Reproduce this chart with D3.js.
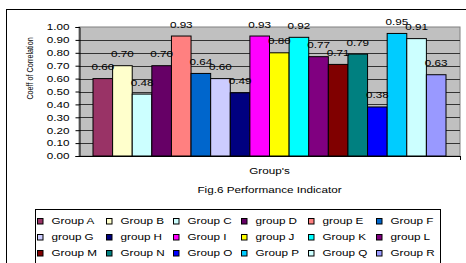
<!DOCTYPE html>
<html>
<head>
<meta charset="utf-8">
<script src="https://cdn.jsdelivr.net/npm/d3@7"></script>
<style>
  body { margin: 0; background: #fff; }
  svg { display: block; font-family: "Liberation Sans", Arial, sans-serif; }
</style>
</head>
<body>
<svg id="chart" width="466" height="263"></svg>
<script>
// data
const groups = ["Group A", "Group B", "Group C", "group D", "group E", "Group F",
  "group G", "group H", "Group I", "group J", "Group K", "group L",
  "Group M", "Group N", "Group O", "Group P", "Group Q", "Group R"];
const values = [0.60, 0.70, 0.48, 0.70, 0.93, 0.64,
  0.60, 0.49, 0.93, 0.80, 0.92, 0.77,
  0.71, 0.79, 0.38, 0.95, 0.91, 0.63];
const colors = ["#993366", "#FFFFCC", "#CCFFFF", "#660066", "#FF8080", "#0066CC",
  "#CCCCFF", "#000080", "#FF00FF", "#FFFF00", "#00FFFF", "#800080",
  "#800000", "#008080", "#0000FF", "#00CCFF", "#CCFFFF", "#9999FF"];
const yTicks = d3.range(0, 11).map((d) => d / 10);

// the picture is stretched horizontally, so text gets the same stretch
const SX = 1.3;

const svg = d3.select("#chart");

// text helper: moves x/y into a transform and stretches the glyphs
const stretch = (sel, extra = "") => {
  sel.each(function () {
    const t = d3.select(this);
    const x = +t.attr("x") || 0;
    const y = +t.attr("y") || 0;
    t.attr("x", 0).attr("y", 0)
      .attr("transform", `translate(${x},${y}) scale(${SX},1) ${extra}`);
  });
};

// outer chart frame (runs off the page on the right / bottom)
svg.append("rect")
  .attr("x", 6.5).attr("y", 9.5)
  .attr("width", 480).attr("height", 280)
  .attr("fill", "#fff").attr("stroke", "#000");

// plot area
const plot = { left: 79, right: 460, top: 27, bottom: 156 };

const y = d3.scaleLinear().domain([0, 1]).range([plot.bottom, plot.top]);
const x = d3.scaleBand().domain(groups).range([93, 446]);

svg.append("rect")
  .attr("x", plot.left).attr("y", plot.top)
  .attr("width", plot.right - plot.left).attr("height", plot.bottom - plot.top)
  .attr("fill", "#C0C0C0").attr("stroke", "#808080");

// gridlines
svg.append("g")
  .selectAll("line")
  .data(yTicks.filter((d) => d > 0 && d < 1))
  .join("line")
  .attr("x1", plot.left).attr("x2", plot.right)
  .attr("y1", (d) => Math.round(y(d)) + 0.5)
  .attr("y2", (d) => Math.round(y(d)) + 0.5)
  .attr("stroke", "#333");

// bars
svg.append("g")
  .selectAll("rect")
  .data(values)
  .join("rect")
  .attr("x", (d, i) => x(groups[i]))
  .attr("y", (d) => y(d))
  .attr("width", x.bandwidth())
  .attr("height", (d) => y(0) - y(d))
  .attr("fill", (d, i) => colors[i])
  .attr("stroke", "#000")
  .attr("stroke-width", 1);

// data labels
svg.append("g")
  .selectAll("text")
  .data(values)
  .join("text")
  .attr("x", (d, i) => x(groups[i]) + x.bandwidth() / 2)
  .attr("y", (d) => y(d) - 8.5)
  .attr("text-anchor", "middle")
  .attr("font-size", 9)
  .attr("fill", "#000")
  .text((d) => d3.format(".2f")(d))
  .call(stretch);

// y axis
const yAxis = svg.append("g")
  .attr("transform", `translate(${plot.left + 0.5},0)`)
  .call(d3.axisLeft(y).tickValues(yTicks).tickFormat(d3.format(".2f"))
    .tickSize(4).tickPadding(6));
yAxis.select(".domain").attr("stroke", "#000");
yAxis.selectAll(".tick line").attr("stroke", "#000");
yAxis.selectAll("text")
  .attr("font-size", 9).attr("font-family", null).attr("fill", "#000")
  .call(stretch);

// x axis line with end tick
svg.append("line")
  .attr("x1", plot.left).attr("x2", plot.right + 0.5)
  .attr("y1", plot.bottom + 0.5).attr("y2", plot.bottom + 0.5)
  .attr("stroke", "#000");
svg.append("line")
  .attr("x1", plot.right + 0.5).attr("x2", plot.right + 0.5)
  .attr("y1", plot.bottom).attr("y2", plot.bottom + 4)
  .attr("stroke", "#000");

// axis titles
svg.append("text")
  .attr("x", 33).attr("y", 68.5)
  .attr("text-anchor", "middle")
  .attr("font-size", 7.2)
  .text("Coeff of Correlation")
  .call(stretch, "rotate(-90)");

svg.append("text")
  .attr("x", (plot.left + plot.right) / 2).attr("y", 174)
  .attr("text-anchor", "middle")
  .attr("font-size", 9)
  .text("Group's")
  .call(stretch);

svg.append("text")
  .attr("x", (plot.left + plot.right) / 2).attr("y", 193)
  .attr("text-anchor", "middle")
  .attr("font-size", 9)
  .text("Fig.6 Performance Indicator")
  .call(stretch);

// legend, 6 columns x 3 rows
const legendCols = [37, 106, 173, 241, 308, 376];
const legend = svg.append("g");
legend.append("rect")
  .attr("x", 35.5).attr("y", 209.5)
  .attr("width", 405).attr("height", 70)
  .attr("fill", "#fff").attr("stroke", "#000");

const item = legend.selectAll("g.item")
  .data(groups)
  .join("g")
  .attr("class", "item")
  .attr("transform", (d, i) =>
    `translate(${legendCols[i % 6]},${224 + Math.floor(i / 6) * 16})`);

item.append("rect")
  .attr("x", 0.5).attr("y", -5.5)
  .attr("width", 5.5).attr("height", 5.5)
  .attr("fill", (d, i) => colors[i])
  .attr("stroke", "#000");

item.append("text")
  .attr("x", 14.5).attr("y", 0)
  .attr("font-size", 9)
  .text((d) => d)
  .call(stretch);
</script>
</body>
</html>
